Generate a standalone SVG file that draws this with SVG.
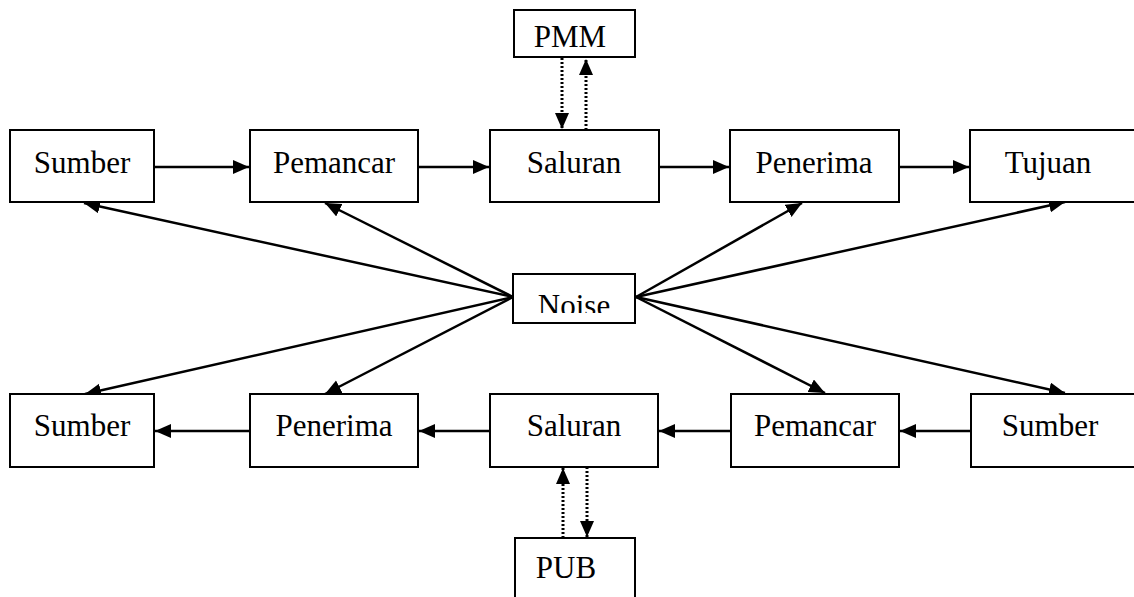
<svg xmlns="http://www.w3.org/2000/svg" width="1134" height="597" viewBox="0 0 1134 597">
  <style>
    .box { fill: #fff; stroke: #000; stroke-width: 2; }
    .lbl { font-family: "Liberation Serif", "Times New Roman", serif; font-size: 31px; fill: #000; text-anchor: middle; }
    .link { stroke: #000; stroke-width: 2.5; fill: none; marker-end: url(#head); }
    .dot { stroke: #000; stroke-width: 3; fill: none; stroke-dasharray: 2 2; marker-end: url(#head); }
  </style>
  <defs>
    <marker id="head" markerUnits="userSpaceOnUse" markerWidth="18" markerHeight="16" refX="16" refY="7" orient="auto">
      <path d="M0,0 L16,7 L0,14 Z" fill="#000"/>
    </marker>
    <clipPath id="noiseClip">
      <rect x="514" y="275" width="120" height="38"/>
    </clipPath>
  </defs>
  <rect width="1134" height="597" fill="#fff"/>

  <!-- connectors -->
  <g id="connectors">
    <!-- upper chain -->
    <line class="link" x1="155" y1="167" x2="249" y2="167"/>
    <line class="link" x1="419" y1="167" x2="489" y2="167"/>
    <line class="link" x1="660" y1="167" x2="729" y2="167"/>
    <line class="link" x1="900" y1="167" x2="969" y2="167"/>
    <!-- lower chain -->
    <line class="link" x1="971" y1="431" x2="900" y2="431"/>
    <line class="link" x1="731" y1="431" x2="659" y2="431"/>
    <line class="link" x1="490" y1="431" x2="419" y2="431"/>
    <line class="link" x1="250" y1="431" x2="155" y2="431"/>
    <!-- PMM / Saluran -->
    <line class="dot" x1="562" y1="58" x2="562" y2="129"/>
    <line class="dot" x1="586" y1="130" x2="586" y2="59"/>
    <!-- PUB / Saluran -->
    <line class="dot" x1="563" y1="538" x2="563" y2="468"/>
    <line class="dot" x1="587" y1="467" x2="587" y2="537"/>
    <!-- noise spread -->
    <line class="link" x1="513" y1="297" x2="84" y2="203"/>
    <line class="link" x1="513" y1="297" x2="325" y2="203"/>
    <line class="link" x1="636" y1="297" x2="802" y2="203"/>
    <line class="link" x1="636" y1="297" x2="1065" y2="202"/>
    <line class="link" x1="513" y1="297" x2="85" y2="394"/>
    <line class="link" x1="513" y1="297" x2="325" y2="394"/>
    <line class="link" x1="636" y1="297" x2="825" y2="393"/>
    <line class="link" x1="636" y1="297" x2="1065" y2="393"/>
  </g>

  <!-- upper row -->
  <g id="sumber-top"><rect class="box" x="10" y="130" width="144" height="72"/><text class="lbl" x="82" y="173">Sumber</text></g>
  <g id="pemancar-top"><rect class="box" x="250" y="130" width="168" height="72"/><text class="lbl" x="334" y="173">Pemancar</text></g>
  <g id="saluran-top"><rect class="box" x="490" y="130" width="169" height="72"/><text class="lbl" x="574" y="173">Saluran</text></g>
  <g id="penerima-top"><rect class="box" x="730" y="130" width="169" height="72"/><text class="lbl" x="814" y="173">Penerima</text></g>
  <g id="tujuan"><rect class="box" x="970" y="130" width="180" height="72"/><text class="lbl" x="1048" y="173">Tujuan</text></g>

  <!-- lower row -->
  <g id="sumber-bottom-left"><rect class="box" x="10" y="394" width="144" height="73"/><text class="lbl" x="82" y="436">Sumber</text></g>
  <g id="penerima-bottom"><rect class="box" x="250" y="394" width="168" height="73"/><text class="lbl" x="334" y="436">Penerima</text></g>
  <g id="saluran-bottom"><rect class="box" x="490" y="394" width="168" height="73"/><text class="lbl" x="574" y="436">Saluran</text></g>
  <g id="pemancar-bottom"><rect class="box" x="731" y="394" width="168" height="73"/><text class="lbl" x="815" y="436">Pemancar</text></g>
  <g id="sumber-bottom-right"><rect class="box" x="971" y="394" width="180" height="73"/><text class="lbl" x="1050" y="436">Sumber</text></g>

  <!-- side blocks -->
  <g id="pmm"><rect class="box" x="514" y="10" width="121" height="47"/><text class="lbl" x="570" y="47">PMM</text></g>
  <g id="pub"><rect class="box" x="515" y="538" width="120" height="70"/><text class="lbl" x="566" y="578">PUB</text></g>
  <g id="noise"><rect class="box" x="513" y="274" width="122" height="49"/><text class="lbl" x="574" y="316" clip-path="url(#noiseClip)">Noise</text></g>
</svg>
